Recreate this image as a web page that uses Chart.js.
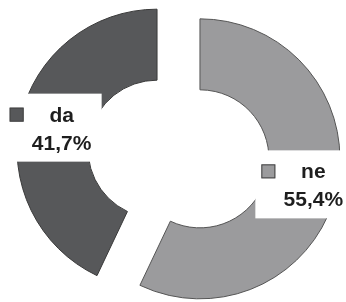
<!DOCTYPE html>
<html>
<head>
<meta charset="utf-8">
<script src="https://cdn.jsdelivr.net/npm/chart.js@4.4.1/dist/chart.umd.min.js"></script>
<style>
  html, body { margin: 0; padding: 0; background: #fff; }
  #wrap { width: 346px; height: 302px; }
</style>
</head>
<body>
<div id="wrap"><canvas id="pie"></canvas></div>
<script>
const categories = ["ne", "da"];
const values = [55.4, 41.7];
const colors = ["#9b9b9d", "#57585a"];
const borders = ["#555", "#3a3a3a"];
const slideOut = [88, 88];

// chart.js grows an exploded arc's radius and trims its angle; undo both
function radiusGrow(arc) {
    const off = (arc.options.offset || 0) / 4;
    return off * (1 - Math.sin(Math.min(Math.PI, arc.circumference)));
}

const keepShape = {
    id: "keepShape",
    afterDatasetUpdate(chart, args) {
        args.meta.data.forEach(arc => {
            const g = radiusGrow(arc);
            arc.outerRadius -= g;
            arc.innerRadius -= g;
            const trim = g / (2 * Math.PI * (arc.outerRadius + g));
            arc.startAngle -= trim;
            arc.endAngle += trim;
        });
    }
};

const sliceLabels = {
    id: "sliceLabels",
    afterDatasetsDraw(chart) {
        const ctx = chart.ctx;
        const meta = chart.getDatasetMeta(0);
        meta.data.forEach((arc, i) => {
            const mid = (arc.startAngle + arc.endAngle) / 2;
            const r = (arc.innerRadius + arc.outerRadius) / 2 + radiusGrow(arc) + (arc.options.offset || 0) / 4 + 2.5;
            const cx = arc.x + Math.cos(mid) * r;
            const cy = arc.y + Math.sin(mid) * r + 2;
            const left = cx - 49, top = cy - 34;
            ctx.save();
            ctx.fillStyle = "#fff";
            ctx.fillRect(left, top, 98, 68);
            ctx.fillStyle = colors[i];
            ctx.fillRect(left + 6, top + 14, 14, 14);
            ctx.strokeStyle = "#444";
            ctx.lineWidth = 1;
            ctx.strokeRect(left + 6.5, top + 14.5, 13, 13);
            ctx.fillStyle = "#1e1e1e";
            ctx.font = "bold 21px 'Liberation Sans', Arial, sans-serif";
            ctx.textAlign = "center";
            ctx.textBaseline = "alphabetic";
            ctx.fillText(categories[i], left + 58, top + 28);
            ctx.fillText(values[i].toFixed(1).replace(".", ",") + "%", left + 58, top + 56);
            ctx.restore();
        });
    }
};

const ctx = document.getElementById("pie").getContext("2d");
new Chart(ctx, {
    type: "doughnut",
    data: {
        labels: categories,
        datasets: [{
            data: values,
            backgroundColor: colors,
            borderColor: borders,
            borderWidth: 1,
            offset: slideOut
        }]
    },
    options: {
        responsive: true,
        maintainAspectRatio: false,
        animation: false,
        radius: 140,
        cutout: "49.3%",
        layout: { padding: { left: 11, top: 6, right: 0, bottom: 0 } },
        plugins: {
            legend: { display: false },
            tooltip: { enabled: false }
        }
    },
    plugins: [keepShape, sliceLabels]
});
</script>
</body>
</html>
